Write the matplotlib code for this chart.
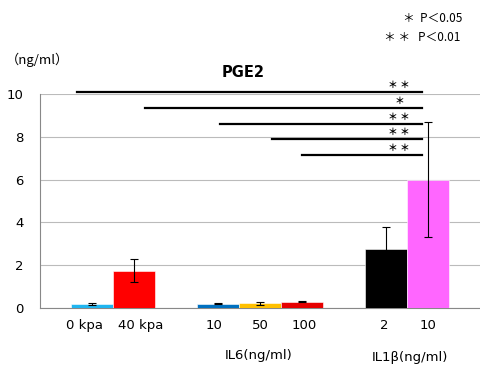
import matplotlib.pyplot as plt
from matplotlib.transforms import ScaledTranslation

# data
labels = ["0 kpa", "40 kpa", "10", "50", "100", "2", "10"]
positions = [0, 1, 3, 4, 5, 7, 8]
values = [0.2, 1.75, 0.2, 0.22, 0.3, 2.75, 6.0]
errors = [0.05, 0.55, 0.02, 0.08, 0.02, 1.05, 2.7]
colors = ["#1FB5F0", "#FF0000", "#0070C0", "#FFC000", "#E60000", "#000000", "#FF66FF"]

# significance brackets: start x, end x, height, mark
sig_start = [-0.37, 1.25, 3.03, 4.27, 4.99]
sig_end = [7.84, 7.84, 7.84, 7.84, 7.84]
sig_y = [10.08, 9.33, 8.6, 7.88, 7.15]
sig_mark = ["＊ ＊", "＊", "＊ ＊", "＊ ＊", "＊ ＊"]

cjk = ["Noto Sans CJK JP", "DejaVu Sans"]

fig = plt.figure(figsize=(4.81, 3.66), dpi=100)
ax = fig.add_axes([0.083, 0.1585, 0.917, 0.585])

ax.bar(positions, values, width=1.0, color=colors, edgecolor="white",
       linewidth=0.4, zorder=3)
ax.errorbar(positions, values, yerr=errors, fmt="none", ecolor="black",
            elinewidth=0.8, capsize=3, capthick=0.8, zorder=4)

ax.set_xlim(-1.25, 9.25)
ax.set_ylim(0, 10)
ax.set_yticks([0, 2, 4, 6, 8, 10])
ax.set_xticks(positions)
ax.set_xticklabels(labels, fontsize=9.5)
ax.tick_params(axis="both", length=0, labelsize=9.5)
ax.tick_params(axis="x", pad=8)
ax.tick_params(axis="y", pad=12)
ax.grid(axis="y", color="#BBBBBB", linewidth=0.8, zorder=0)
for s in ["top", "right"]:
    ax.spines[s].set_visible(False)
ax.spines["left"].set_color("#888888")
ax.spines["bottom"].set_color("#888888")
ax.spines["left"].set_linewidth(0.8)
ax.spines["bottom"].set_linewidth(0.8)

# spread the first two labels apart a little, like the original
shifts = [-8, 6, -4, 0, 2, -2, 0]
for lab, dx in zip(ax.get_xticklabels(), shifts):
    lab.set_transform(lab.get_transform() + ScaledTranslation(dx / 100, 0, fig.dpi_scale_trans))

for x0, x1, y, m in zip(sig_start, sig_end, sig_y, sig_mark):
    ax.plot([x0, x1], [y, y], color="black", linewidth=1.6, clip_on=False, zorder=5)
    ax.text(7.3, y + 0.1, m, ha="center", va="bottom", fontsize=7,
            family=cjk, fontweight="bold", clip_on=False)

ax.set_title("PGE2", fontsize=10.5, fontweight="bold", pad=12, x=0.46)

fig.text(0.012, 0.836, "（ng/ml）", fontsize=9.5, family=cjk, ha="left", va="center")
fig.text(0.838, 0.95, "＊  P＜0.05", fontsize=8.5, family=cjk, ha="left", va="center")
fig.text(0.798, 0.898, "＊ ＊   P＜0.01", fontsize=8.5, family=cjk, ha="left", va="center")
fig.text(0.538, 0.03, "IL6(ng/ml)", fontsize=9.5, ha="center", va="center")
fig.text(0.852, 0.022, "IL1β(ng/ml)", fontsize=9.5, ha="center", va="center")

fig.savefig("out.png", dpi=100)
